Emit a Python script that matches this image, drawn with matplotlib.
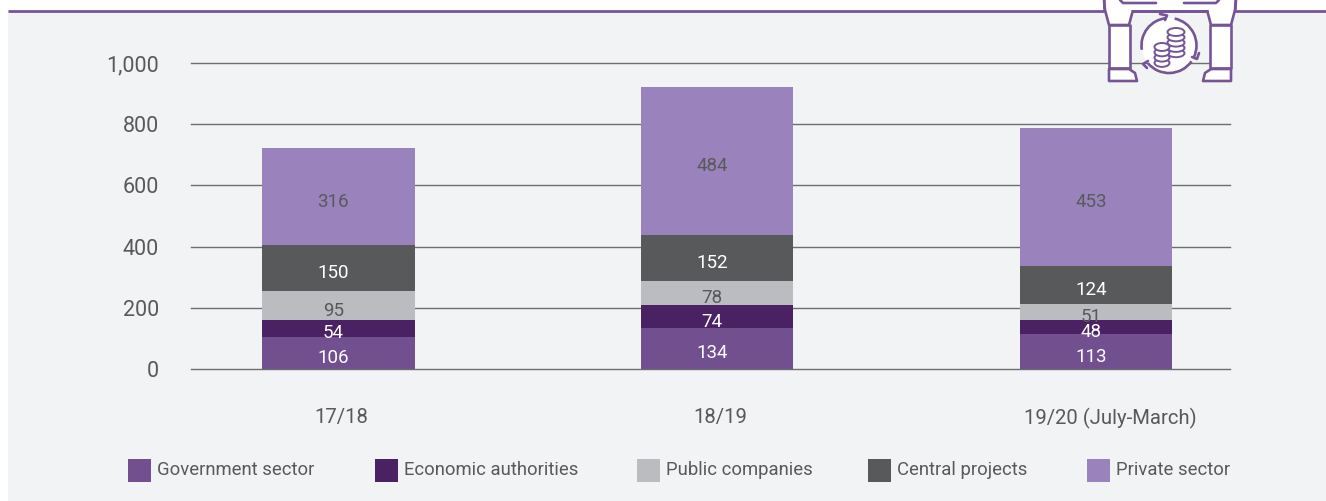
import numpy as np
import matplotlib
matplotlib.use("Agg")
import matplotlib.pyplot as plt
from matplotlib.patches import Rectangle, Circle, Ellipse, Polygon, Arc

# --- data ---
periods = ["17/18", "18/19", "19/20 (July-March)"]
sectors = ["Government sector", "Economic authorities", "Public companies", "Central projects", "Private sector"]
government = [106, 134, 113]
economic = [54, 74, 48]
public_co = [95, 78, 51]
central = [150, 152, 124]
private = [316, 484, 453]
y_ticks = [0, 200, 400, 600, 800, 1000]
y_tick_labels = ["0", "200", "400", "600", "800", "1,000"]

series = [government, economic, public_co, central, private]
colors = ["#724f8f", "#4a2163", "#bbbcbf", "#58595b", "#9a83bc"]
label_colors = ["white", "white", "#58595b", "white", "#58595b"]

W, H = 1326, 501
BG = "#f2f3f5"
PURPLE = "#755595"
plt.rcParams["font.family"] = ["Roboto", "DejaVu Sans"]

fig = plt.figure(figsize=(W / 100, H / 100), dpi=100, facecolor="white")

# full figure layer in pixel coords, for panel and legend
bg = fig.add_axes([0, 0, 1, 1], zorder=0)
bg.set_xlim(0, W)
bg.set_ylim(H, 0)
bg.axis("off")
bg.add_patch(Rectangle((8, 10), W - 8, H - 10, color=BG, lw=0))
bg.plot([8, W], [10.5, 10.5], color=PURPLE, lw=2, solid_capstyle="butt")

# --- chart ---
ax = fig.add_axes([191 / W, 1 - 369 / H, 1039 / W, 306 / H], zorder=1)
ax.patch.set_alpha(0)
x = np.arange(3)
ax.set_xlim(-0.389, 2.354)
ax.set_ylim(0, 1000)
ax.set_yticks(y_ticks)
ax.set_yticklabels(y_tick_labels, fontsize=15.5, color="#58595b")
ax.set_xticks([])
ax.tick_params(axis="y", length=0, pad=23)
ax.grid(axis="y", color="#6d6e70", lw=1, clip_on=False)
ax.set_axisbelow(True)
for s in ax.spines.values():
    s.set_visible(False)

bottom = np.zeros(3)
for vals, col, lab_col in zip(series, colors, label_colors):
    vals = np.array(vals)
    ax.bar(x, vals, 0.4026, bottom=bottom, color=col, lw=0, zorder=2)
    for xi, b, v in zip(x, bottom, vals):
        # value labels sit a little left of and below the segment centre
        ax.annotate(str(v), (xi, b + v / 2), xytext=(-5, -5), textcoords="offset pixels",
                    ha="center", va="center", fontsize=13.5, color=lab_col, zorder=3)
    bottom += vals

# period labels are not centred on the bars
for xi, name, dx in zip(x, periods, [0.007, 0.008, 0.037]):
    ax.annotate(name, (xi + dx, 0), xytext=(0, -49), textcoords="offset pixels",
                ha="center", va="center", fontsize=14.6, color="#58595b", annotation_clip=False)

# --- legend ---
leg_x = [128, 375, 637, 868, 1087]
for lx, name, col in zip(leg_x, sectors, colors):
    bg.add_patch(Rectangle((lx, 459), 23, 23, color=col, lw=0))
    bg.text(lx + 29, 470, name, ha="left", va="center", fontsize=13.3, color="#58595b")

# --- icon (cropped figure holding coins), drawn over the chart ---
ov = fig.add_axes([0, 0, 1, 1], zorder=2)
ov.set_xlim(0, W)
ov.set_ylim(H, 0)
ov.axis("off")

def shape(pts):
    ov.add_patch(Polygon(pts, closed=True, fc="white", ec=PURPLE, lw=1.9, joinstyle="round"))

def stroke(xs, ys, lw=1.9):
    ov.plot(xs, ys, color=PURPLE, lw=lw, solid_capstyle="round", solid_joinstyle="round")

shape([(1104, -3), (1105, 10), (1109, 25), (1129, 25), (1133, 10), (1133, -3)])
shape([(1236, -3), (1235, 10), (1231, 25), (1211, 25), (1207, 10), (1207, -3)])
ov.add_patch(Rectangle((1120, -3), 100, 13, fc="white", lw=0))
stroke([1104, 1104.5], [-2, 9])
stroke([1236, 1235.5], [-2, 9])
stroke([1133, 1207], [10.5, 10.5], lw=2)
shape([(1109, 25), (1130, 25), (1130, 68), (1109, 68)])
shape([(1231, 25), (1210, 25), (1210, 68), (1231, 68)])
shape([(1109, 69), (1129, 69), (1135, 73), (1137, 81), (1109, 81)])
shape([(1231, 69), (1211, 69), (1205, 73), (1203, 81), (1231, 81)])
stroke([1120, 1123, 1156], [0, 3, 3])
stroke([1184, 1216, 1219], [3, 3, 0])

# round arrows around the coins
ov.add_patch(Circle((1169, 45.5), 27.5, fc="white", lw=0))
for a1, a2 in [(171, 265), (-78, 25), (35, 140)]:
    ov.add_patch(Arc((1169, 45.5), 55, 55, theta1=a1, theta2=a2, color=PURPLE, lw=1.9))
stroke([1160, 1167, 1165], [14, 15.5, 20])
stroke([1199, 1197, 1192], [53, 59, 57])
stroke([1148, 1143, 1147], [61, 64, 68])

# coin stacks
for cx, cy, n, w in [(1176, 32, 4, 17), (1162, 47, 3, 15)]:
    for i in range(n, -1, -1):
        ov.add_patch(Ellipse((cx, cy + i * 5.3), w, 8, fc="white", ec=PURPLE, lw=1.4))

fig.savefig("out.png", dpi=100, facecolor="white")
